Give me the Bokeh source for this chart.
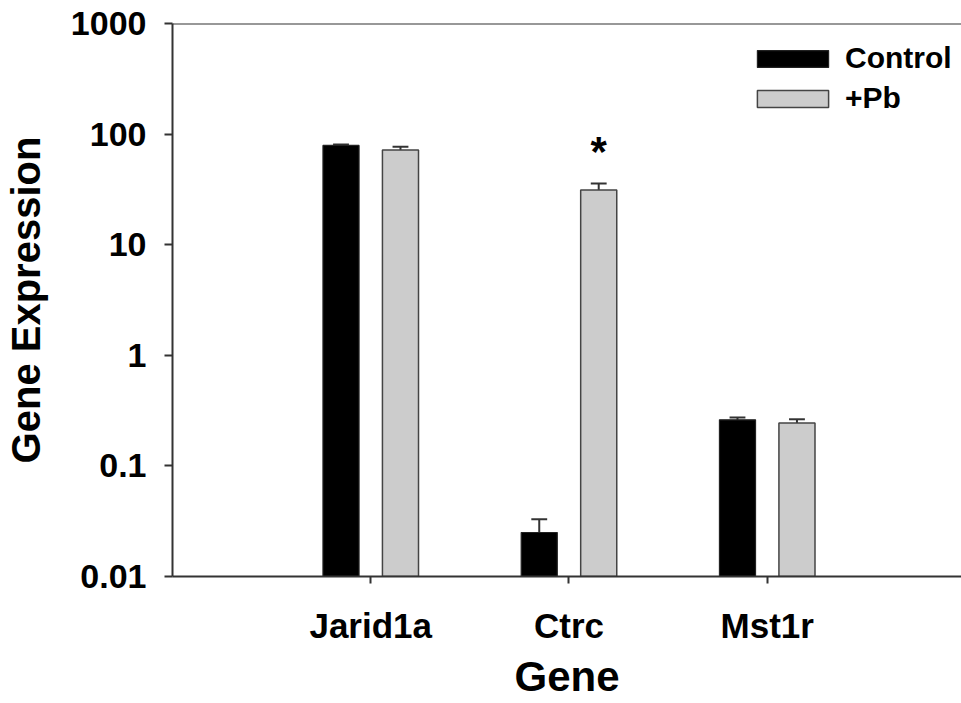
import numpy as np
from bokeh.plotting import figure
from bokeh.models import (ColumnDataSource, FixedTicker, Legend, LegendItem, Span, Title)
from bokeh.core.properties import value
from bokeh.embed import file_html
from bokeh.resources import INLINE

genes = ["Jarid1a", "Ctrc", "Mst1r"]
control = [79.0, 0.025, 0.261]
control_err = [1.5, 0.008, 0.013]
pb = [72.0, 31.3, 0.244]
pb_err = [5.0, 4.5, 0.02]
significant = ["", "*", ""]
ytick_values = [0.01, 0.1, 1, 10, 100, 1000]
ytick_labels = ["0.01", "0.1", "1", "10", "100", "1000"]

FONT = "Liberation Sans"
x = np.arange(1, len(genes) + 1)
offset = 0.15
bw = 0.182
cap = 0.04
ymin, ymax = 0.01, 1000

p = figure(width=961, height=703, y_axis_type="log", x_range=(0, 3.98),
           y_range=(ymin, ymax), output_backend="svg", toolbar_location=None,
           min_border_left=172, min_border_right=0, min_border_top=23,
           min_border_bottom=126)
p.outline_line_color = None
p.grid.visible = False
p.background_fill_color = "white"
p.border_fill_color = "white"

def series(vals, errs, dx):
    xs = x + dx
    tops = [v + e for v, e in zip(vals, errs)]
    return ColumnDataSource(dict(x=xs, top=vals, bottom=[ymin] * len(vals), etop=tops,
                                 x0=xs - cap, x1=xs + cap))

s_c = series(control, control_err, -offset)
s_p = series(pb, pb_err, offset)

for src in (s_c, s_p):
    p.segment(x0="x", y0="top", x1="x", y1="etop", source=src, line_color="#333333", line_width=2)
    p.segment(x0="x0", y0="etop", x1="x1", y1="etop", source=src, line_color="#333333", line_width=2)

r_c = p.vbar(x="x", width=bw, top="top", bottom="bottom", source=s_c,
             fill_color="black", line_color="#222222", line_width=1.2)
r_p = p.vbar(x="x", width=bw, top="top", bottom="bottom", source=s_p,
             fill_color="#cccccc", line_color="#444444", line_width=1.5)

# significance marker
sig_src = ColumnDataSource(dict(
    x=[xi + offset for xi, s in zip(x, significant) if s],
    y=[v + e for v, e, s in zip(pb, pb_err, significant) if s],
    t=[s for s in significant if s]))
p.text(x="x", y="y", text="t", source=sig_src, text_font=value(FONT), text_font_style="bold",
       text_font_size="42px", text_align="center", text_baseline="alphabetic",
       y_offset=-32, text_color="black")

# top frame line
p.add_layout(Span(location=ymax, dimension="width", line_color="#333333", line_width=2))

# axes
for ax in (p.xaxis[0], p.yaxis[0]):
    ax.axis_line_color = "#333333"
    ax.axis_line_width = 2
    ax.major_tick_line_color = "#333333"
    ax.major_tick_line_width = 2
    ax.major_tick_in = 0
    ax.minor_tick_line_color = None
    ax.major_label_text_font = FONT
    ax.major_label_text_font_style = "bold"
    ax.major_label_text_color = "black"
    ax.axis_label_text_font = FONT
    ax.axis_label_text_font_style = "bold"
    ax.axis_label_text_color = "black"
    ax.axis_label_text_font_size = "40px"

p.yaxis.ticker = FixedTicker(ticks=ytick_values)
p.yaxis.major_label_overrides = {v: l for v, l in zip(ytick_values, ytick_labels)}
p.yaxis.major_label_text_font_size = "34px"
p.yaxis.major_tick_out = 8
p.yaxis.major_label_standoff = 18
p.yaxis.axis_label = "Gene Expression"
p.yaxis.axis_label_standoff = 20

p.xaxis.ticker = FixedTicker(ticks=list(x))
p.xaxis.major_label_overrides = {int(xi): g for xi, g in zip(x, genes)}
p.xaxis.major_label_text_font_size = "35px"
p.xaxis.major_tick_out = 7
p.xaxis.major_label_standoff = 22

# x-axis title as a below-panel title
p.add_layout(Title(text="Gene", align="center", text_font=FONT, text_font_style="bold",
                   text_font_size="42px", text_color="black", text_line_height=1.0,
                   standoff=7, offset=0),
             "below")

legend = Legend(items=[LegendItem(label="Control", renderers=[r_c]),
                       LegendItem(label="+Pb", renderers=[r_p])],
                location=(576, 461), orientation="vertical",
                glyph_width=89, glyph_height=21, label_standoff=8, spacing=6,
                padding=0, margin=0, border_line_color=None, background_fill_alpha=0,
                label_text_font=FONT, label_text_font_style="bold",
                label_text_font_size="30px", label_text_color="black")
p.add_layout(legend, "center")

open("out.html", "w").write(file_html(p, INLINE))
